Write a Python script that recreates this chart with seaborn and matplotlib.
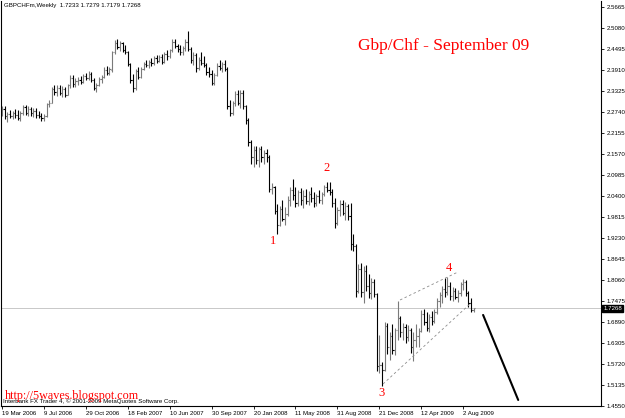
import matplotlib
matplotlib.use('Agg')
import matplotlib.pyplot as plt
import seaborn as sns
import pandas as pd
import numpy as np

# ---------------- data ----------------
opens = [2.270, 2.282, 2.262, 2.268, 2.262, 2.272, 2.265, 2.258, 2.271, 2.287,
         2.272, 2.282, 2.270, 2.278, 2.265, 2.262, 2.256, 2.262, 2.296, 2.300,
         2.338, 2.330, 2.342, 2.326, 2.338, 2.322, 2.348, 2.370, 2.352, 2.360,
         2.364, 2.358, 2.374, 2.370, 2.380, 2.362, 2.340, 2.350, 2.366, 2.372,
         2.390, 2.384, 2.392, 2.440, 2.466, 2.456, 2.466, 2.448, 2.442, 2.408,
         2.362, 2.340, 2.388, 2.372, 2.394, 2.408, 2.404, 2.414, 2.410, 2.424,
         2.416, 2.428, 2.412, 2.436, 2.430, 2.446, 2.468, 2.458, 2.450, 2.440,
         2.452, 2.470, 2.450, 2.418, 2.434, 2.396, 2.420, 2.410, 2.404, 2.386,
         2.380, 2.356, 2.378, 2.402, 2.396, 2.408, 2.394, 2.290, 2.272, 2.298,
         2.324, 2.300, 2.328, 2.290, 2.252, 2.190, 2.150, 2.168, 2.140, 2.170,
         2.150, 2.160, 2.150, 2.060, 2.066, 1.998, 1.960, 2.004, 1.976, 1.990,
         2.030, 2.056, 2.044, 2.020, 2.050, 2.028, 2.040, 2.026, 2.046, 2.034,
         2.020, 2.040, 2.028, 2.046, 2.066, 2.058, 2.052, 2.020, 1.966, 2.000,
         2.018, 1.994, 2.012, 1.984, 1.905, 1.900, 1.776, 1.838, 1.772, 1.830,
         1.790, 1.770, 1.800, 1.766, 1.566, 1.570, 1.556, 1.678, 1.618, 1.650,
         1.610, 1.666, 1.700, 1.660, 1.676, 1.648, 1.666, 1.618, 1.640, 1.650,
         1.664, 1.712, 1.690, 1.672, 1.704, 1.692, 1.718, 1.748, 1.764, 1.782,
         1.772, 1.790, 1.762, 1.776, 1.758, 1.770, 1.794, 1.800, 1.770, 1.742,
         1.7233]
highs = [2.292, 2.290, 2.275, 2.280, 2.278, 2.282, 2.279, 2.276, 2.293, 2.294,
         2.290, 2.289, 2.285, 2.284, 2.276, 2.272, 2.268, 2.300, 2.308, 2.345,
         2.350, 2.348, 2.350, 2.346, 2.345, 2.352, 2.378, 2.376, 2.368, 2.372,
         2.375, 2.380, 2.384, 2.388, 2.386, 2.368, 2.356, 2.372, 2.378, 2.398,
         2.402, 2.400, 2.445, 2.474, 2.478, 2.472, 2.470, 2.462, 2.445, 2.410,
         2.380, 2.395, 2.398, 2.400, 2.414, 2.420, 2.418, 2.424, 2.430, 2.432,
         2.434, 2.436, 2.440, 2.446, 2.450, 2.476, 2.478, 2.464, 2.462, 2.458,
         2.476, 2.500, 2.454, 2.440, 2.438, 2.428, 2.442, 2.430, 2.410, 2.400,
         2.390, 2.384, 2.410, 2.418, 2.414, 2.420, 2.398, 2.308, 2.304, 2.332,
         2.336, 2.334, 2.334, 2.294, 2.256, 2.196, 2.178, 2.180, 2.176, 2.178,
         2.168, 2.172, 2.154, 2.076, 2.068, 2.018, 2.012, 2.028, 2.010, 2.040,
         2.064, 2.086, 2.064, 2.058, 2.062, 2.056, 2.060, 2.054, 2.064, 2.050,
         2.046, 2.056, 2.052, 2.072, 2.080, 2.078, 2.060, 2.034, 2.010, 2.028,
         2.030, 2.022, 2.018, 2.020, 1.935, 1.905, 1.850, 1.852, 1.845, 1.848,
         1.822, 1.812, 1.810, 1.770, 1.652, 1.578, 1.690, 1.686, 1.660, 1.684,
         1.672, 1.747, 1.706, 1.686, 1.684, 1.680, 1.672, 1.660, 1.684, 1.672,
         1.722, 1.726, 1.716, 1.712, 1.720, 1.726, 1.756, 1.772, 1.790, 1.812,
         1.815, 1.800, 1.786, 1.784, 1.778, 1.800, 1.810, 1.806, 1.774, 1.756,
         1.7279]
lows = [2.262, 2.255, 2.245, 2.256, 2.255, 2.258, 2.252, 2.250, 2.266, 2.266,
        2.262, 2.262, 2.260, 2.258, 2.256, 2.250, 2.248, 2.260, 2.288, 2.298,
        2.322, 2.318, 2.322, 2.316, 2.315, 2.320, 2.340, 2.345, 2.345, 2.350,
        2.352, 2.356, 2.362, 2.364, 2.358, 2.334, 2.330, 2.346, 2.355, 2.370,
        2.378, 2.378, 2.386, 2.436, 2.450, 2.444, 2.440, 2.435, 2.402, 2.356,
        2.331, 2.335, 2.366, 2.368, 2.390, 2.398, 2.396, 2.402, 2.406, 2.410,
        2.412, 2.408, 2.410, 2.420, 2.424, 2.442, 2.452, 2.440, 2.432, 2.434,
        2.444, 2.445, 2.410, 2.406, 2.386, 2.390, 2.404, 2.400, 2.378, 2.372,
        2.350, 2.348, 2.374, 2.390, 2.386, 2.388, 2.282, 2.262, 2.266, 2.290,
        2.294, 2.286, 2.282, 2.240, 2.178, 2.128, 2.120, 2.130, 2.122, 2.136,
        2.130, 2.136, 2.050, 2.046, 1.990, 1.935, 1.956, 1.970, 1.960, 1.984,
        2.012, 2.030, 2.010, 2.012, 2.016, 2.006, 2.018, 2.014, 2.024, 2.010,
        2.012, 2.020, 2.018, 2.040, 2.050, 2.044, 2.010, 1.952, 1.960, 1.984,
        1.986, 1.972, 1.974, 1.890, 1.888, 1.760, 1.770, 1.760, 1.742, 1.775,
        1.756, 1.754, 1.758, 1.552, 1.548, 1.510, 1.552, 1.600, 1.582, 1.600,
        1.596, 1.640, 1.648, 1.640, 1.630, 1.636, 1.604, 1.580, 1.620, 1.618,
        1.660, 1.680, 1.664, 1.662, 1.680, 1.686, 1.712, 1.730, 1.742, 1.760,
        1.764, 1.750, 1.748, 1.752, 1.744, 1.762, 1.778, 1.762, 1.730, 1.716,
        1.7179]
closes = [2.282, 2.262, 2.268, 2.262, 2.272, 2.265, 2.258, 2.271, 2.287, 2.272,
          2.282, 2.270, 2.278, 2.265, 2.262, 2.256, 2.262, 2.296, 2.300, 2.338,
          2.330, 2.342, 2.326, 2.338, 2.322, 2.348, 2.370, 2.352, 2.360, 2.364,
          2.358, 2.374, 2.370, 2.380, 2.362, 2.340, 2.350, 2.366, 2.372, 2.390,
          2.384, 2.394, 2.440, 2.466, 2.456, 2.466, 2.448, 2.442, 2.408, 2.362,
          2.340, 2.388, 2.372, 2.394, 2.408, 2.404, 2.414, 2.410, 2.424, 2.416,
          2.428, 2.412, 2.436, 2.430, 2.446, 2.468, 2.458, 2.450, 2.440, 2.452,
          2.470, 2.450, 2.418, 2.434, 2.396, 2.420, 2.410, 2.404, 2.386, 2.380,
          2.356, 2.378, 2.402, 2.396, 2.408, 2.394, 2.290, 2.272, 2.298, 2.324,
          2.300, 2.328, 2.290, 2.252, 2.190, 2.150, 2.168, 2.140, 2.170, 2.150,
          2.160, 2.150, 2.060, 2.066, 1.998, 1.960, 2.004, 1.976, 1.990, 2.030,
          2.056, 2.044, 2.020, 2.050, 2.028, 2.040, 2.026, 2.046, 2.034, 2.020,
          2.040, 2.028, 2.046, 2.066, 2.058, 2.052, 2.020, 1.966, 2.000, 2.018,
          1.994, 2.012, 1.984, 1.905, 1.900, 1.776, 1.838, 1.772, 1.830, 1.790,
          1.770, 1.800, 1.766, 1.566, 1.570, 1.556, 1.678, 1.618, 1.650, 1.610,
          1.666, 1.700, 1.660, 1.676, 1.648, 1.666, 1.618, 1.640, 1.650, 1.664,
          1.712, 1.690, 1.672, 1.704, 1.692, 1.718, 1.748, 1.764, 1.782, 1.772,
          1.790, 1.762, 1.776, 1.758, 1.770, 1.794, 1.800, 1.770, 1.742, 1.723,
          1.7268]

date_labels = ["19 Mar 2006", "9 Jul 2006", "29 Oct 2006", "18 Feb 2007",
               "10 Jun 2007", "30 Sep 2007", "20 Jan 2008", "11 May 2008",
               "31 Aug 2008", "21 Dec 2008", "12 Apr 2009", "2 Aug 2009"]
date_label_bars = [0, 16, 32, 48, 64, 80, 96, 112, 128, 144, 160, 176]

price_ticks = [1.4550, 1.5135, 1.5720, 1.6305, 1.6890, 1.7475, 1.8060, 1.8645,
               1.9230, 1.9815, 2.0400, 2.0985, 2.1570, 2.2155, 2.2740, 2.3325,
               2.3910, 2.4495, 2.5080, 2.5665]
last_price = 1.7268

# wave labels (bar position, price)
wave_names = ["1", "2", "3", "4"]
wave_x = [103.4, 123.7, 144.7, 170.6]
wave_y = [1.9147, 2.1180, 1.4913, 1.8395]

# channel and projection lines
upper_x = [151.9, 174.0]
upper_y = [1.7503, 1.8283]
lower_x = [145.4, 178.6]
lower_y = [1.5163, 1.7392]
proj_x = [183.6, 197.0]
proj_y = [1.7086, 1.4718]

# ---------------- figure ----------------
sns.set_theme(style="white")
plt.rcParams['font.family'] = ['Liberation Sans', 'DejaVu Sans']

W, H = 625, 418
fig = plt.figure(figsize=(W / 100, H / 100), dpi=100)
fig.patch.set_facecolor('white')
ax = fig.add_axes([1 / W, 1 - 406 / H, 600 / W, 405 / H])
ax.set_facecolor('white')

df = pd.DataFrame({'open': opens, 'high': highs, 'low': lows, 'close': closes})
df['bar'] = np.arange(len(df))
up = df['close'] >= df['open']
colors = np.where(up, '#7a7a7a', '#000000')

lw = 0.8
ax.vlines(df['bar'], df['low'], df['high'], colors=colors, linewidth=lw)
ax.hlines(df['open'], df['bar'] - 0.45, df['bar'], colors=colors, linewidth=lw)
ax.hlines(df['close'], df['bar'], df['bar'] + 0.45, colors=colors, linewidth=lw)

# current price line
ax.axhline(last_price, color='#c8c8c8', linewidth=0.7, zorder=0)

# channel lines (dashed) and projection line via seaborn
sns.lineplot(x=upper_x, y=upper_y, ax=ax, color='#8c8c8c', linewidth=0.6,
             linestyle=(0, (3, 3)))
sns.lineplot(x=lower_x, y=lower_y, ax=ax, color='#8c8c8c', linewidth=0.6,
             linestyle=(0, (3, 3)))
sns.lineplot(x=proj_x, y=proj_y, ax=ax, color='black', linewidth=1.5)

# wave labels
for n, x, y in zip(wave_names, wave_x, wave_y):
    ax.text(x, y, n, color='#ff0000', fontsize=9, ha='center', va='center',
            family=['Liberation Serif', 'DejaVu Serif'])

ax.set_xlim(-0.4, 228.6)
ax.set_ylim(1.4550, 2.5832)

# axes styling
for s in ['left', 'right', 'bottom']:
    ax.spines[s].set_visible(True)
    ax.spines[s].set_color('black')
    ax.spines[s].set_linewidth(0.8)
ax.spines['top'].set_visible(False)

ax.yaxis.tick_right()
ax.set_yticks(price_ticks)
ax.set_yticklabels([f"{v:.4f}" for v in price_ticks])
ax.tick_params(axis='y', which='both', direction='out', length=2.5, width=0.6,
               pad=1.5, labelsize=4.4, colors='black', left=False, right=True)

ax.set_xticks(date_label_bars)
ax.set_xticklabels(date_labels, ha='left')
ax.tick_params(axis='x', direction='out', length=2.5, width=0.6, pad=1.2,
               labelsize=4.4, colors='black', bottom=True)
for lab in ax.get_xticklabels():
    lab.set_horizontalalignment('left')
ax.set_xlabel('')
ax.set_ylabel('')
ax.grid(False)

# current price box on the axis
ax.text(1.004, last_price, f"{last_price:.4f}", transform=ax.get_yaxis_transform(),
        color='white', fontsize=4.4, ha='left', va='center',
        bbox=dict(boxstyle='square,pad=0.15', facecolor='black', edgecolor='black'),
        clip_on=False, zorder=5)

# texts
fig.text(4 / W, 1 - 6 / H, "GBPCHFm,Weekly  1.7233 1.7279 1.7179 1.7268",
         fontsize=4.4, color='black', ha='left', va='center')
fig.text(444 / W, 1 - 46 / H, "Gbp/Chf - September 09", fontsize=12.5,
         color='#ff0000', ha='center', va='center',
         family=['Liberation Serif', 'DejaVu Serif'])
fig.text(3 / W, 1 - 401 / H,
         "Interbank FX Trader 4, \u00a9 2001-2009 MetaQuotes Software Corp.",
         fontsize=4.4, color='black', ha='left', va='center')
fig.text(5 / W, 1 - 396 / H, "http://5waves.blogspot.com", fontsize=8.7,
         color='#ff0000', ha='left', va='center',
         family=['Liberation Serif', 'DejaVu Serif'])

fig.savefig('out.png', dpi=100, facecolor='white')
